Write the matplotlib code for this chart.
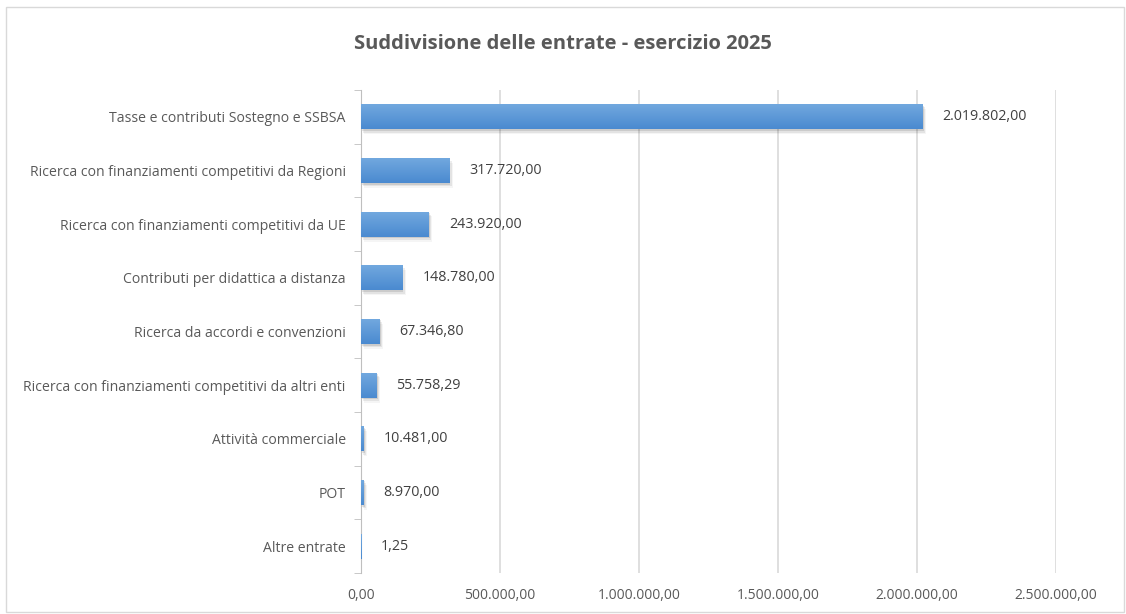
import numpy as np
import matplotlib.pyplot as plt
from matplotlib.patches import Rectangle
from matplotlib.colors import LinearSegmentedColormap

categories = [
    "Tasse e contributi Sostegno e SSBSA",
    "Ricerca con finanziamenti competitivi da Regioni",
    "Ricerca con finanziamenti competitivi da UE",
    "Contributi per didattica a distanza",
    "Ricerca da accordi e convenzioni",
    "Ricerca con finanziamenti competitivi da altri enti",
    "Attività commerciale",
    "POT",
    "Altre entrate",
]
values = [2019802.00, 317720.00, 243920.00, 148780.00, 67346.80, 55758.29, 10481.00, 8970.00, 1.25]
x_ticks = [0, 500000, 1000000, 1500000, 2000000, 2500000]
title = "Suddivisione delle entrate - esercizio 2025"


def it_fmt(v):
    # Italian number format: 1.234.567,89
    s = f"{v:,.2f}"
    return s.replace(",", "X").replace(".", ",").replace("X", ".")


plt.rcParams['font.family'] = ['Open Sans', 'DejaVu Sans']

fig = plt.figure(figsize=(11.26, 6.14), dpi=100)
fig.patches.append(Rectangle((6 / 1126, 2 / 614), 1118 / 1126, 605 / 614,
                             transform=fig.transFigure, fill=False,
                             edgecolor='#d9d9d9', linewidth=1))
ax = fig.add_axes([361 / 1126, 41 / 614, 695 / 1126, 483 / 614])

y = np.arange(len(categories))
bars = ax.barh(y, values, height=0.47, color='#5b9bd5', zorder=3)

# gradient fill and soft shadow like the Excel style
grad = np.linspace(0, 1, 64).reshape(-1, 1)
cmap = LinearSegmentedColormap.from_list('g', ['#73a9df', '#4a8ad0'])
for b in bars:
    x0, y0 = b.get_x(), b.get_y()
    w, h = b.get_width(), b.get_height()
    for k, a in enumerate([0.10, 0.07, 0.04]):
        sh = Rectangle((x0 + 4000 * (k + 1), y0 + 0.03 * (k + 1)), w, h,
                       facecolor='#000000', alpha=a, edgecolor='none', zorder=2)
        ax.add_patch(sh)
    b.set_facecolor('none')
    b.set_edgecolor('none')
    im = ax.imshow(grad, extent=(x0, x0 + w, y0 + h, y0), aspect='auto',
                   cmap=cmap, zorder=3, origin='upper')
    im.set_clip_path(b)

for yi, v in zip(y, values):
    ax.text(v + 72000, yi, it_fmt(v), va='center', ha='left',
            fontsize=10.3, color='#404040')

ax.set_xlim(0, 2500000)
ax.set_ylim(len(categories) - 0.5, -0.5)
ax.set_xticks(x_ticks)
ax.set_xticklabels([it_fmt(t) for t in x_ticks], fontsize=10, color='#595959')
ax.set_yticks(y)
ax.set_yticklabels(categories, fontsize=10.1, color='#595959')
ax.set_yticks(np.arange(-0.5, len(categories)), minor=True)
ax.tick_params(axis='y', which='major', length=0, pad=11)
ax.tick_params(axis='y', which='minor', length=5, color='#bfbfbf')
ax.tick_params(axis='x', length=0, pad=11)
ax.xaxis.grid(True, color='#d9d9d9', linewidth=1.2, zorder=0)
ax.set_axisbelow(True)
for s in ['top', 'right', 'bottom']:
    ax.spines[s].set_visible(False)
ax.spines['left'].set_color('#bfbfbf')

fig.text(0.5, 1 - 44 / 614, title, ha='center', va='center',
         fontsize=14.5, fontweight='bold', color='#595959')

fig.savefig('out.png', dpi=100)
